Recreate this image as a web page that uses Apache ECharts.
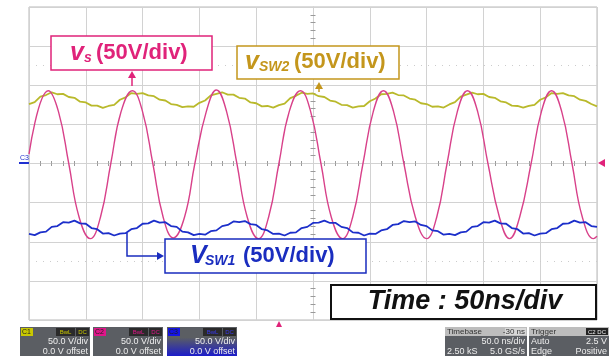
<!DOCTYPE html>
<html>
<head>
<meta charset="utf-8">
<script src="https://cdn.jsdelivr.net/npm/echarts@6/dist/echarts.min.js"></script>
<style>
html, body { margin: 0; padding: 0; background: #fff; }
#scope { width: 610px; height: 356px; }
</style>
</head>
<body>
<div id="scope"></div>
<script>
// time in ns, relative to the centre of the screen (50 ns/div, 10 div)
const sampleTimes = [
  -250, -245, -240, -235, -230, -225, -220, -215, -210, -205, -200, -195, -190, -185, -180, -175, -170,
  -165, -160, -155, -150, -145, -140, -135, -130, -125, -120, -115, -110, -105, -100, -95, -90, -85,
  -80, -75, -70, -65, -60, -55, -50, -45, -40, -35, -30, -25, -20, -15, -10, -5, 0, 5, 10, 15, 20, 25,
  30, 35, 40, 45, 50, 55, 60, 65, 70, 75, 80, 85, 90, 95, 100, 105, 110, 115, 120, 125, 130, 135, 140,
  145, 150, 155, 160, 165, 170, 175, 180, 185, 190, 195, 200, 205, 210, 215, 220, 225, 230, 235, 240,
  245, 250
];
// C1 : vSW2 (V)
const vSw2 = [
  76, 78.5, 85.5, 87.5, 91, 88.5, 89, 85, 84, 79, 78, 74, 74, 71, 73.5, 75, 81.5, 84.5, 90, 89, 90,
  87, 86, 81.5, 80.5, 76, 75, 72, 73, 72.5, 77.5, 80.5, 87, 89, 91, 88, 88, 84, 83, 78, 77, 73, 73.5,
  71.5, 74.5, 76.5, 83.5, 86.5, 90.5, 89, 89.5, 86, 85, 80.5, 79, 75, 74.5, 71.5, 73, 73.5, 79.5, 83,
  88.5, 89, 90.5, 87.5, 87, 83, 81.5, 77, 76, 72.5, 73, 71.5, 75.5, 78.5, 85.5, 88, 90.5, 88.5, 89,
  85, 84, 79.5, 78, 74, 73.5, 71.5, 73.5, 75, 81.5, 84.5, 90, 89, 90, 87, 86, 81.5, 80, 76, 73
];
// C3 : vSW1 (V)
const vSw1 = [
  -90, -91.5, -88, -87, -81, -80, -75, -75.5, -73, -76.5, -77, -82.5, -84, -89.5, -89, -92, -89.5,
  -89, -84, -82.5, -77, -76.5, -73, -75.5, -75, -80, -81, -87, -88, -91.5, -90, -91, -86.5, -85.5,
  -80, -78.5, -74, -75, -73.5, -77.5, -78.5, -84, -85.5, -90, -89.5, -92, -88.5, -88, -82.5, -81,
  -76, -75.5, -73, -76, -76, -81, -82.5, -88, -88.5, -92, -89.5, -90, -85.5, -84, -78.5, -77.5,
  -73.5, -75, -74, -78.5, -80, -85.5, -86.5, -91, -90, -91.5, -88, -87, -81, -80, -75, -75.5, -73,
  -76.5, -77, -82.5, -84, -89.5, -89, -92, -89.5, -89, -84, -82.5, -77, -76.5, -73, -75.5, -75, -80, -81
];
// C2 : vs (V), read at peaks, troughs and in between
const vsTimes = [
  -250, -233, -224, -215, -206, -196, -187, -178, -169, -159, -150, -141, -132, -123, -113, -104,
  -94, -85, -76, -67, -58, -48, -39, -30, -21, -11, -2, 7, 16, 26, 35, 44, 53, 62, 71, 80, 90, 100,
  109, 118, 127, 136, 145, 154, 164, 173, 182, 192, 201, 210, 219, 228, 237, 247, 250
];
const vsValues = [
  12, 93, 66, 0, -68, -96, -68, 0, 66, 93, 66, 0, -68, -95, -68, 0, 66, 94, 66, 0, -68, -96, -68, 0,
  66, 93, 66, 0, -68, -96, -68, 0, 66, 93, 66, 0, -68, -96, -68, 0, 66, 93, 66, 0, -68, -96, -68, 0,
  66, 93, 66, 0, -68, -96, -93
];

const pairs = (xs, ys) => xs.map((x, i) => [x, ys[i]]);

const gridLine = '#d2d2d2';
const tickColor = '#9a9a9a';

function timeAxis(position, withSplit) {
  return {
    type: 'value', min: -250, max: 250, interval: 50, position: position,
    axisLine: { show: true, onZero: true, onZeroAxisIndex: 0, lineStyle: { color: gridLine } },
    axisTick: { show: false },
    minorTick: { show: true, splitNumber: 5, length: 2.5, lineStyle: { color: tickColor } },
    axisLabel: { show: false },
    splitLine: { show: withSplit, lineStyle: { color: gridLine } }
  };
}
function voltAxis(position, withSplit) {
  return {
    type: 'value', min: -200, max: 200, interval: 50, position: position,
    axisLine: { show: true, onZero: true, onZeroAxisIndex: 0, lineStyle: { color: gridLine } },
    axisTick: { show: false },
    minorTick: { show: true, splitNumber: 5, length: 2.5, lineStyle: { color: tickColor } },
    axisLabel: { show: false },
    splitLine: { show: withSplit, lineStyle: { color: gridLine } }
  };
}

// --- annotation helpers (pixel layout only) ---
function box(x, y, w, h, stroke, lw) {
  return { type: 'rect', shape: { x: x, y: y, width: w, height: h },
    style: { fill: '#fff', stroke: stroke, lineWidth: lw }, z: 100 };
}
function txt(x, y, s, font, fill, align) {
  return { type: 'text', z: 101,
    style: { x: x, y: y, text: s, font: font, fill: fill, align: align || 'left', verticalAlign: 'middle' } };
}
function tri(points, fill) {
  return { type: 'polygon', shape: { points: points }, style: { fill: fill }, z: 101 };
}
function seg(points, stroke, lw) {
  return { type: 'polyline', shape: { points: points }, style: { stroke: stroke, lineWidth: lw, fill: null }, z: 101 };
}

const F = '"Liberation Sans", Arial, sans-serif';
const pink = '#e0237a', gold = '#c4961c', navy = '#1a2dbf';

const notes = [
  // vs label
  box(51, 36, 161, 34, pink, 1.5),
  txt(70, 53, 'v', 'italic bold 25px ' + F, pink),
  txt(84, 58, 's', 'italic bold 14px ' + F, pink),
  txt(96, 53, '(50V/div)', 'bold 22px ' + F, pink),
  seg([[132, 86], [132, 76]], pink, 1.5),
  tri([[128, 78], [136, 78], [132, 71]], pink),
  // vSW2 label
  box(237, 46, 162, 33, gold, 1.5),
  txt(245, 62, 'v', 'italic bold 25px ' + F, gold),
  txt(259, 67, 'SW2', 'italic bold 14px ' + F, gold),
  txt(294, 62, '(50V/div)', 'bold 22px ' + F, gold),
  seg([[319, 92], [319, 87]], gold, 1.5),
  tri([[315, 89], [323, 89], [319, 82]], gold),
  // VSW1 label
  box(165, 239, 201, 34, navy, 1.5),
  txt(190, 256, 'V', 'italic bold 25px ' + F, navy),
  txt(205, 261, 'SW1', 'italic bold 14px ' + F, navy),
  txt(243, 256, '(50V/div)', 'bold 22px ' + F, navy),
  seg([[127, 233], [127, 256], [158, 256]], navy, 1.5),
  tri([[157, 252], [157, 260], [164, 256]], navy),
  // time base label
  box(331, 285, 265, 34, '#111', 2),
  txt(465, 302, 'Time : 50ns/div', 'italic bold 27px ' + F, '#111', 'center'),
  // screen markers
  txt(20, 158, 'C3', '7px ' + F, '#2030d0'),
  seg([[19, 163], [29, 163]], '#2030d0', 2),
  tri([[605, 159], [605, 167], [598, 163]], '#e0237a'),
  tri([[276, 327], [282, 327], [279, 321]], '#e0237a')
];

// channel / timebase status panels below the screen
function chanPanel(x, name, tagColor, tagText, bottom) {
  const fill = bottom
    ? { type: 'linear', x: 0, y: 0, x2: 0, y2: 1, colorStops: [{ offset: 0.35, color: '#5b5e63' }, { offset: 1, color: bottom }] }
    : '#5b5e63';
  return [
    { type: 'rect', shape: { x: x, y: 327, width: 70, height: 30 }, style: { fill: fill }, z: 90 },
    { type: 'rect', shape: { x: x + 1, y: 328, width: 12, height: 8 }, style: { fill: tagColor }, z: 91 },
    txt(x + 2, 332, name, '7px ' + F, '#222'),
    { type: 'rect', shape: { x: x + 36, y: 328, width: 19, height: 8 }, style: { fill: '#2a2a2a' }, z: 91 },
    txt(x + 45.5, 332, 'BwL', '6px ' + F, tagText, 'center'),
    { type: 'rect', shape: { x: x + 56, y: 328, width: 13, height: 8 }, style: { fill: '#2a2a2a' }, z: 91 },
    txt(x + 62.5, 332, 'DC', '6px ' + F, tagText, 'center'),
    txt(x + 68, 342, '50.0 V/div', '9px ' + F, '#eeeeee', 'right'),
    txt(x + 68, 352, '0.0 V offset', '9px ' + F, '#eeeeee', 'right')
  ];
}
const panels = [].concat(
  chanPanel(20, 'C1', '#c9c800', '#c9c800'),
  chanPanel(93, 'C2', '#e0168a', '#e0168a'),
  chanPanel(167, 'C3', '#1414e6', '#3a3af0', '#1818d0'),
  [
    { type: 'rect', shape: { x: 445, y: 327, width: 82, height: 30 }, style: { fill: '#5b5e63' }, z: 90 },
    { type: 'rect', shape: { x: 445, y: 327, width: 82, height: 9 }, style: { fill: '#bdbdbd' }, z: 91 },
    { type: 'rect', shape: { x: 505, y: 328, width: 21, height: 7 }, style: { fill: '#d8d8d8' }, z: 91 },
    txt(447, 332, 'Timebase', '8px ' + F, '#333'),
    txt(525, 332, '-30 ns', '8px ' + F, '#333', 'right'),
    txt(525, 342, '50.0 ns/div', '9px ' + F, '#eeeeee', 'right'),
    txt(447, 352, '2.50 kS', '9px ' + F, '#eeeeee'),
    txt(525, 352, '5.0 GS/s', '9px ' + F, '#eeeeee', 'right'),
    { type: 'rect', shape: { x: 529, y: 327, width: 80, height: 30 }, style: { fill: '#5b5e63' }, z: 90 },
    { type: 'rect', shape: { x: 529, y: 327, width: 80, height: 9 }, style: { fill: '#bdbdbd' }, z: 91 },
    { type: 'rect', shape: { x: 586, y: 328, width: 22, height: 7 }, style: { fill: '#222' }, z: 91 },
    txt(531, 332, 'Trigger', '8px ' + F, '#333'),
    txt(597, 332, 'C2 DC', '6px ' + F, '#eee', 'center'),
    txt(531, 342, 'Auto', '9px ' + F, '#eeeeee'),
    txt(607, 342, '2.5 V', '9px ' + F, '#eeeeee', 'right'),
    txt(531, 352, 'Edge', '9px ' + F, '#eeeeee'),
    txt(607, 352, 'Positive', '9px ' + F, '#eeeeee', 'right')
  ]
);

const chart = echarts.init(document.getElementById('scope'), null, { renderer: 'canvas' });
chart.setOption({
  animation: false,
  backgroundColor: '#fff',
  grid: { left: 29, top: 7, width: 568, height: 313, show: true, borderColor: '#b8b8b8', borderWidth: 1, backgroundColor: '#fff' },
  xAxis: [timeAxis('bottom', true), timeAxis('top', false)],
  yAxis: [voltAxis('left', true), voltAxis('right', false)],
  series: [
    {
      name: 'vSW2', type: 'line', data: pairs(sampleTimes, vSw2), showSymbol: false,
      lineStyle: { color: '#b9b92b', width: 1.8 }, z: 3,
      markLine: {
        silent: true, symbol: 'none', label: { show: false },
        lineStyle: { color: '#cccccc', type: [1, 6], width: 1 },
        data: [{ yAxis: 125 }, { yAxis: -125 }]
      }
    },
    {
      name: 'vs', type: 'line', data: pairs(vsTimes, vsValues), showSymbol: false, smooth: 0.45,
      lineStyle: { color: '#d8418a', width: 1.4 }, z: 4
    },
    {
      name: 'vSW1', type: 'line', data: pairs(sampleTimes, vSw1), showSymbol: false,
      lineStyle: { color: '#1c2fca', width: 1.8 }, z: 5
    }
  ],
  graphic: notes.concat(panels)
});
</script>
</body>
</html>
